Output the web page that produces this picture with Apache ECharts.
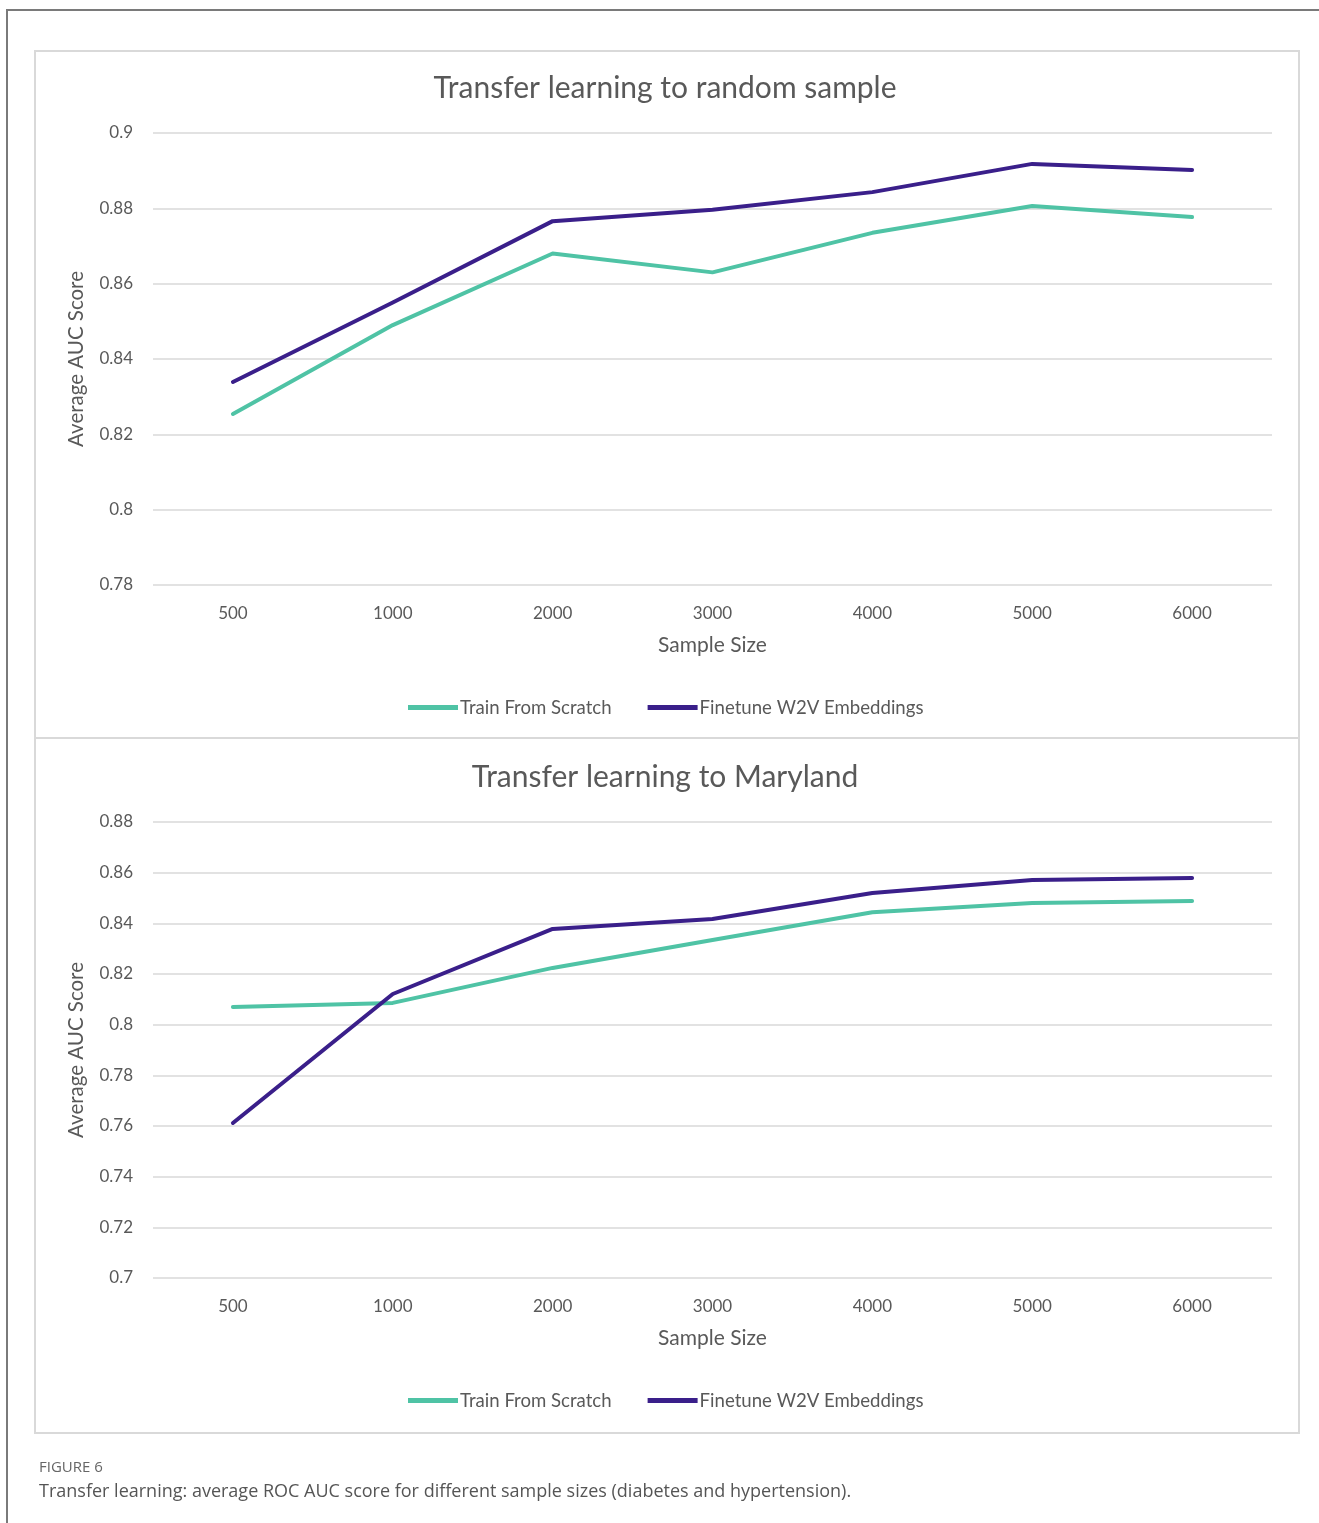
<!DOCTYPE html>
<html lang="en">
<head>
<meta charset="UTF-8">
<title>Transfer learning</title>
<script src="https://cdn.jsdelivr.net/npm/echarts@6/dist/echarts.min.js"></script>
<style>
  html, body { margin: 0; padding: 0; background: #fff; }
  #main { width: 1319px; height: 1523px; }
</style>
</head>
<body>
<div id="main"></div>
<script>
// sample sizes on the x axis
var sampleSizes = ['500', '1000', '2000', '3000', '4000', '5000', '6000'];
var seriesNames = ['Train From Scratch', 'Finetune W2V Embeddings'];
var panelTitles = ['Transfer learning to random sample', 'Transfer learning to Maryland'];

// top panel: random sample
var randomScratch = [0.8254, 0.849, 0.868, 0.863, 0.8735, 0.8806, 0.8777];
var randomFinetune = [0.8339, 0.855, 0.8766, 0.8796, 0.8843, 0.8918, 0.8902];

// bottom panel: Maryland
var marylandScratch = [0.807, 0.8086, 0.8224, 0.8334, 0.8444, 0.848, 0.8488];
var marylandFinetune = [0.7612, 0.8121, 0.8378, 0.8417, 0.852, 0.8571, 0.8579];

var green = '#4fc3a5';
var purple = '#3a1f8a';
var textGray = '#595959';
var font = 'Lato';

var myChart = echarts.init(document.getElementById('main'), null, { renderer: 'canvas' });

function xAxisFor(idx) {
    return {
        type: 'category',
        gridIndex: idx,
        data: sampleSizes,
        boundaryGap: true,
        name: 'Sample Size',
        nameLocation: 'middle',
        nameGap: 50,
        nameTextStyle: { color: textGray, fontSize: 21, fontFamily: font },
        axisLine: { show: false },
        axisTick: { show: false },
        axisLabel: { color: textGray, fontSize: 17, fontFamily: font, margin: 20 }
    };
}

function yAxisFor(idx, min, max) {
    return {
        type: 'value',
        gridIndex: idx,
        min: min,
        max: max,
        interval: 0.02,
        name: 'Average AUC Score',
        nameLocation: 'middle',
        nameGap: 66,
        nameTextStyle: { color: textGray, fontSize: 20.5, fontFamily: font },
        axisLine: { show: false },
        axisTick: { show: false },
        axisLabel: { color: textGray, fontSize: 17, fontFamily: font, margin: 20 },
        splitLine: { show: true, lineStyle: { color: '#d9d9d9', width: 1.5 } }
    };
}

function lineSeries(name, data, color, idx) {
    return {
        name: name,
        type: 'line',
        xAxisIndex: idx,
        yAxisIndex: idx,
        data: data,
        symbol: 'none',
        smooth: false,
        color: color,
        lineStyle: { color: color, width: 4, cap: 'round', join: 'round' }
    };
}

function legendFor(top) {
    return {
        top: top,
        left: 403,
        icon: 'rect',
        itemWidth: 50,
        itemHeight: 5,
        itemGap: 36,
        textStyle: { color: textGray, fontSize: 18.6, fontFamily: font, padding: [0, 0, 0, -3] },
        data: seriesNames
    };
}

function titleText(text, y) {
    return {
        type: 'text', x: 665, y: y,
        style: { text: text, fill: textGray, fontSize: 30, fontFamily: font,
                 textAlign: 'center', textVerticalAlign: 'middle' }
    };
}

var option = {
    backgroundColor: '#fff',
    animation: false,
    legend: [legendFor(693), legendFor(1386)],
    grid: [
        { left: 153, top: 133, width: 1119, height: 452 },
        { left: 153, top: 822, width: 1119, height: 456 }
    ],
    xAxis: [xAxisFor(0), xAxisFor(1)],
    yAxis: [yAxisFor(0, 0.78, 0.9), yAxisFor(1, 0.7, 0.88)],
    series: [
        lineSeries(seriesNames[0], randomScratch, green, 0),
        lineSeries(seriesNames[1], randomFinetune, purple, 0),
        lineSeries(seriesNames[0], marylandScratch, green, 1),
        lineSeries(seriesNames[1], marylandFinetune, purple, 1)
    ],
    graphic: [
        // outer frame (left and top only)
        { type: 'polyline', z: -1, shape: { points: [[7, 1523], [7, 10], [1319, 10]] },
          style: { stroke: '#7a7a7a', lineWidth: 2, fill: null } },
        // panel box and divider
        { type: 'rect', z: -1, shape: { x: 35, y: 51, width: 1264, height: 1382 },
          style: { stroke: '#d9d9d9', lineWidth: 2, fill: null } },
        { type: 'line', z: -1, shape: { x1: 35, y1: 738, x2: 1299, y2: 738 },
          style: { stroke: '#d9d9d9', lineWidth: 2 } },
        titleText(panelTitles[0], 88),
        titleText(panelTitles[1], 777),
        // caption
        { type: 'text', left: 39, top: 1460,
          style: { text: 'FIGURE 6', fill: '#666', fontSize: 15, fontFamily: 'Open Sans' } },
        { type: 'text', left: 39, top: 1483,
          style: { text: 'Transfer learning: average ROC AUC score for different sample sizes (diabetes and hypertension).',
                   fill: '#555', fontSize: 18, fontFamily: 'Open Sans' } }
    ]
};

myChart.setOption(option);
window.addEventListener('resize', myChart.resize);
</script>
</body>
</html>
